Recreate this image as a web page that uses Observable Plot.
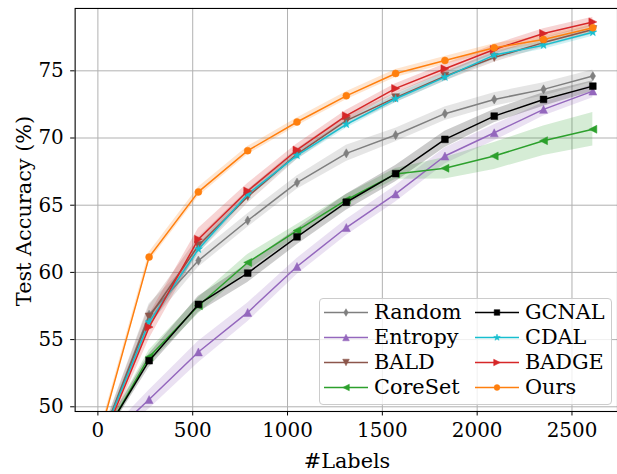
<!DOCTYPE html>
<html>
<head>
<meta charset="utf-8">
<script src="https://cdn.jsdelivr.net/npm/d3@7"></script>
<script src="https://cdn.jsdelivr.net/npm/@observablehq/plot@0.6"></script>
<style>
  html, body { margin: 0; padding: 0; background: white; overflow: hidden; }
  #wrap { position: relative; width: 617px; height: 474px; overflow: hidden; font-family: "DejaVu Serif", serif; }
  #legend { position: absolute; left: 319px; top: 298px; width: 293px; height: 107px; box-sizing: border-box;
            background: rgba(255,255,255,0.8); border: 1px solid #cccccc; border-radius: 4px; }
  .entry { position: absolute; display: flex; align-items: center; height: 25px; font-size: 20.8px; line-height: 1; color: #000; }
  .entry span { margin-left: 6px; }
  #ytitle { position: absolute; left: 24px; top: 211px; transform: translate(-50%, -50%) rotate(-90deg); white-space: nowrap; font-size: 20.8px; line-height: 1; }
  #xtitle { position: absolute; left: 347px; top: 451px; transform: translateX(-50%); white-space: nowrap; font-size: 20.8px; line-height: 1; }
</style>
</head>
<body>
<div id="wrap"></div>
<script>
// ---- data ----
const labels = [10, 270, 530, 790, 1050, 1310, 1570, 1830, 2090, 2350, 2610];
const xTicks = [0, 500, 1000, 1500, 2000, 2500];
const yTicks = [50, 55, 60, 65, 70, 75];

const methods = ["Random", "Entropy", "BALD", "CoreSet", "GCNAL", "CDAL", "BADGE", "Ours"];
const colors  = ["#7f7f7f", "#9467bd", "#8c564b", "#2ca02c", "#000000", "#17becf", "#d62728", "#ff7f0e"];

const random     = [47.3, 56.85, 60.88, 63.86, 66.68, 68.86, 70.22, 71.81, 72.87, 73.62, 74.61];
const randomStd  = [0.3, 0.8, 0.5, 0.5, 0.5, 0.6, 0.5, 0.5, 0.5, 0.5, 0.45];
const entropy    = [47.1, 50.54, 54.08, 57.02, 60.44, 63.34, 65.84, 68.66, 70.39, 72.13, 73.49];
const entropyStd = [0.3, 0.7, 0.8, 0.7, 0.6, 0.6, 0.6, 0.6, 0.6, 0.5, 0.5];
const bald       = [47.3, 56.68, 62.0, 65.64, 68.8, 71.29, 73.0, 74.6, 75.99, 77.1, 78.07];
const baldStd    = [0.3, 0.8, 0.6, 0.5, 0.4, 0.4, 0.35, 0.35, 0.35, 0.35, 0.35];
const coreset    = [47.3, 53.71, 57.52, 60.74, 63.11, 65.39, 67.33, 67.75, 68.66, 69.8, 70.65];
const coresetStd = [0.3, 0.5, 0.6, 0.6, 0.45, 0.4, 0.4, 0.8, 1.0, 1.1, 1.25];
const gcnal      = [47.4, 53.43, 57.62, 59.95, 62.65, 65.22, 67.35, 69.9, 71.63, 72.87, 73.86];
const gcnalStd   = [0.3, 0.5, 0.6, 0.7, 0.6, 0.6, 0.6, 0.6, 0.5, 0.5, 0.4];
const cdal       = [47.3, 56.3, 61.73, 65.82, 68.71, 71.02, 72.92, 74.53, 76.17, 76.91, 77.87];
const cdalStd    = [0.3, 0.5, 0.35, 0.3, 0.3, 0.3, 0.3, 0.3, 0.3, 0.3, 0.3];
const badge      = [47.0, 55.93, 62.47, 66.06, 69.11, 71.66, 73.69, 75.15, 76.59, 77.78, 78.64];
const badgeStd   = [0.3, 0.9, 0.8, 0.55, 0.45, 0.4, 0.35, 0.35, 0.35, 0.35, 0.35];
const ours       = [47.9, 61.14, 65.99, 69.06, 71.19, 73.14, 74.8, 75.77, 76.71, 77.33, 78.2];
const oursStd    = [0.3, 0.35, 0.35, 0.3, 0.3, 0.3, 0.3, 0.3, 0.3, 0.3, 0.3];

const means = [random, entropy, bald, coreset, gcnal, cdal, badge, ours];
const stds  = [randomStd, entropyStd, baldStd, coresetStd, gcnalStd, cdalStd, badgeStd, oursStd];

// ---- marker symbols (matplotlib-like) ----
function poly(pts) {
  return { draw(ctx, size) {
    const s = Math.sqrt(size / Math.PI);
    pts.forEach(([px, py], i) => i ? ctx.lineTo(px * s, py * s) : ctx.moveTo(px * s, py * s));
    ctx.closePath();
  }};
}
const thinDiamond = poly([[0, -1.15], [0.68, 0], [0, 1.15], [-0.68, 0]]);
const triUp = poly([[0, -1], [1, 1], [-1, 1]]);
const triDown = poly([[0, 1], [1, -1], [-1, -1]]);
const triLeft = poly([[-1, 0], [1, -1], [1, 1]]);
const triRight = poly([[1, 0], [-1, -1], [-1, 1]]);
const square = poly([[-0.85, -0.85], [0.85, -0.85], [0.85, 0.85], [-0.85, 0.85]]);
const starPts = [];
for (let k = 0; k < 10; k++) {
  const a = -Math.PI / 2 + k * Math.PI / 5, r = k % 2 ? 0.42 : 1.05;
  starPts.push([r * Math.cos(a), r * Math.sin(a)]);
}
const star = poly(starPts);
const circle = { draw(ctx, size) { const r = Math.sqrt(size / Math.PI) * 0.88; ctx.moveTo(r, 0); ctx.arc(0, 0, r, 0, 2 * Math.PI); } };
const symbols = [thinDiamond, triUp, triDown, triLeft, square, star, triRight, circle];
const radii = [4, 4, 4, 4, 4, 4, 4, 4];

// ---- table ----
const rows = [];
methods.forEach((m, i) => labels.forEach((x, j) => rows.push({
  method: m, x, y: means[i][j], lo: means[i][j] - stds[i][j], hi: means[i][j] + stds[i][j]
})));

const marks = [
  Plot.ruleX(xTicks, { stroke: "#b0b0b0", strokeWidth: 1 }),
  Plot.ruleY(yTicks, { stroke: "#b0b0b0", strokeWidth: 1 })
];
methods.forEach((m, i) => {
  marks.push(Plot.areaY(rows.filter(d => d.method === m), {
    x: "x", y1: "lo", y2: "hi", fill: colors[i], fillOpacity: 0.2, clip: true
  }));
});
methods.forEach((m, i) => {
  const data = rows.filter(d => d.method === m);
  marks.push(Plot.line(data, { x: "x", y: "y", stroke: colors[i], strokeWidth: 1.5, clip: true }));
  marks.push(Plot.dot(data, { x: "x", y: "y", symbol: symbols[i], r: radii[i], fill: colors[i], stroke: colors[i], strokeWidth: 0.5, clip: true }));
});
marks.push(Plot.frame({ stroke: "#000", strokeWidth: 1.1 }));

const chart = Plot.plot({
  width: 620,
  height: 474,
  marginLeft: 75,
  marginRight: 0,
  marginTop: 8,
  marginBottom: 61,
  style: { fontFamily: "DejaVu Serif", fontSize: "20px", color: "#000", background: "white", overflow: "visible" },
  x: { domain: [-120, 2740], ticks: xTicks, tickFormat: d => String(d), tickSize: 4.5, tickPadding: 7, label: null },
  y: { domain: [49.65, 79.64], ticks: yTicks, tickFormat: d => String(d), tickSize: 4.5, tickPadding: 7, label: null },
  marks
});
const wrap = document.getElementById("wrap");
wrap.appendChild(chart);

// axis titles
const yt = document.createElement("div"); yt.id = "ytitle"; yt.textContent = "Test Accuracy (%)"; wrap.appendChild(yt);
const xt = document.createElement("div"); xt.id = "xtitle"; xt.textContent = "#Labels"; wrap.appendChild(xt);

// legend
const legend = document.createElement("div"); legend.id = "legend"; wrap.appendChild(legend);
methods.forEach((m, i) => {
  const col = i < 4 ? 0 : 1, row = i % 4;
  const e = document.createElement("div");
  e.className = "entry";
  e.style.left = (col ? 155 : 4) + "px";
  e.style.top = (1 + row * 25) + "px";
  const svg = d3.create("svg").attr("width", 44).attr("height", 25);
  svg.append("line").attr("x1", 0).attr("x2", 44).attr("y1", 12.5).attr("y2", 12.5)
    .attr("stroke", colors[i]).attr("stroke-width", 1.5);
  const p = d3.path();
  symbols[i].draw(p, Math.PI * 3.3 * 3.3);
  svg.append("path").attr("d", p.toString()).attr("transform", "translate(22,12.5)")
    .attr("fill", colors[i]).attr("stroke", colors[i]).attr("stroke-width", 0.5);
  e.appendChild(svg.node());
  const t = document.createElement("span"); t.textContent = m; e.appendChild(t);
  legend.appendChild(e);
});
</script>
</body>
</html>
